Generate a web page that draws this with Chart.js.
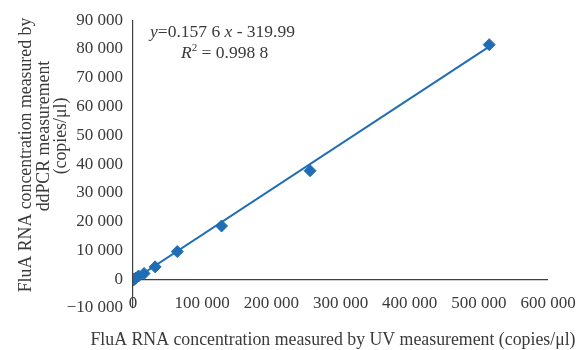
<!DOCTYPE html>
<html>
<head>
<meta charset="utf-8">
<script src="https://cdn.jsdelivr.net/npm/chart.js@4/dist/chart.umd.min.js"></script>
<style>
  html, body { margin: 0; padding: 0; background: #fff; }
</style>
</head>
<body>
<canvas id="myChart" width="577" height="350"></canvas>
<script>
// values (copies/µl)
const uvValues = [500, 1000, 2000, 4000, 8000, 16000, 32000, 64000, 128000, 256000, 515000]
const ddpcrValues = [-250, -150, 100, 400, 1100, 2000, 4300, 9600, 18500, 37700, 81500]

// end points of the linear trend line shown in the figure
const trendX = [500, 515000]
const trendY = [-240, 80840]

const xTicks = [0, 100000, 200000, 300000, 400000, 500000, 600000]
const yTicks = [-10000, 0, 10000, 20000, 30000, 40000, 50000, 60000, 70000, 80000, 90000]

const xTitle = 'FluA RNA concentration measured by UV measurement (copies/μl)'
const yTitle = ['FluA RNA concentration measured by', 'ddPCR measurement', '(copies/μl)']

const blue = '#1f6eb5'
const textColor = '#3a3a3a'
const serif = '"Liberation Serif", "DejaVu Serif", serif'

// 12345 -> "12 345", negatives get a real minus sign
function formatNumber(v) {
  const s = String(Math.abs(v)).replace(/\B(?=(\d{3})+(?!\d))/g, ' ')
  return v < 0 ? '\u2212' + s : s
}

// x tick labels sit inside the plot band (like the original), axis titles
// and the regression equation
const annotations = {
  id: 'annotations',
  afterDraw(chart) {
    const ctx = chart.ctx
    const xScale = chart.scales.x
    ctx.save()
    ctx.fillStyle = textColor
    ctx.textBaseline = 'middle'
    ctx.textAlign = 'center'

    ctx.font = `17px ${serif}`
    xTicks.forEach((v) => {
      ctx.fillText(formatNumber(v), xScale.getPixelForValue(v), 304)
    })

    ctx.font = `17.8px ${serif}`
    ctx.fillText(xTitle, 333, 340)

    const yCentres = [[26, 155], [44, 136], [61, 136]]
    yTitle.forEach((line, i) => {
      ctx.save()
      ctx.translate(yCentres[i][0], yCentres[i][1])
      ctx.rotate(-Math.PI / 2)
      ctx.fillText(line, 0, 0)
      ctx.restore()
    })

    // equation: mixed italic / upright runs
    ctx.textAlign = 'left'
    ctx.textBaseline = 'alphabetic'
    const drawRuns = (runs, x, y) => {
      runs.forEach(([text, style]) => {
        let dy = 0
        if (style === 'italic') ctx.font = `italic 17.5px ${serif}`
        else if (style === 'sup') { ctx.font = `11px ${serif}`; dy = -7 }
        else ctx.font = `17.5px ${serif}`
        ctx.fillText(text, x, y + dy)
        x += ctx.measureText(text).width
      })
    }
    drawRuns([['y', 'italic'], ['=0.157 6 ', ''], ['x', 'italic'], [' - 319.99', '']], 150, 37)
    drawRuns([['R', 'italic'], ['2', 'sup'], [' = 0.998 8', '']], 181, 58)
    ctx.restore()
  },
}

const ctx = document.getElementById('myChart')

new Chart(ctx, {
  type: 'scatter',
  data: {
    datasets: [
      {
        label: 'Trend',
        data: trendX.map((x, i) => ({ x, y: trendY[i] })),
        showLine: true,
        borderColor: blue,
        borderWidth: 2,
        pointRadius: 0,
        order: 2,
      },
      {
        label: 'Samples',
        data: uvValues.map((x, i) => ({ x, y: ddpcrValues[i] })),
        pointStyle: 'rectRot',
        pointRadius: 6,
        backgroundColor: blue,
        borderColor: blue,
        borderWidth: 1,
        order: 1,
      },
    ],
  },
  options: {
    responsive: false,
    animation: false,
    layout: { padding: { left: 0, top: 19, right: 29, bottom: 0 } },
    plugins: {
      legend: { display: false },
      tooltip: { enabled: false },
    },
    scales: {
      x: {
        type: 'linear',
        min: 0,
        max: 600000,
        afterBuildTicks: (scale) => { scale.ticks = xTicks.map((value) => ({ value })) },
        afterFit: (scale) => { scale.height = 42 },
        grid: { display: false, drawTicks: false },
        border: { display: false },
        ticks: { display: false },
      },
      y: {
        type: 'linear',
        min: -10000,
        max: 90000,
        afterBuildTicks: (scale) => { scale.ticks = yTicks.map((value) => ({ value })) },
        afterFit: (scale) => { scale.width = 133 },
        grid: {
          drawTicks: false,
          color: (c) => (c.tick && c.tick.value === 0 ? '#404040' : 'rgba(0,0,0,0)'),
          lineWidth: 1.2,
        },
        border: { display: true, color: '#404040', width: 1.2 },
        ticks: {
          padding: 10,
          color: textColor,
          font: { family: serif, size: 17 },
          callback: (v) => formatNumber(v),
        },
      },
    },
  },
  plugins: [annotations],
})
</script>
</body>
</html>
